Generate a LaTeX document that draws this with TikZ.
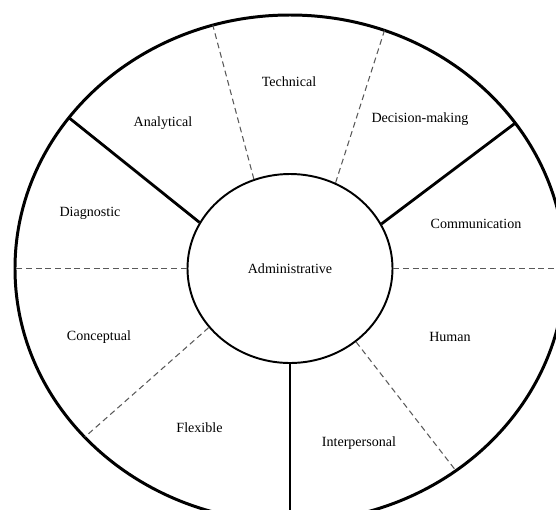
\documentclass[tikz,border=0pt]{standalone}
\usepackage{fontspec}
\setmainfont{Liberation Serif}
\usepackage{tikz}
\usetikzlibrary{shapes.geometric}

\begin{document}
\begin{tikzpicture}[every node/.style={font=\fontsize{8}{10}\selectfont}]
            \tikzstyle{ring}=[line width=1.7pt]
            \tikzstyle{wall}=[line width=1.6pt]
            \tikzstyle{split}=[black!65, line width=0.6pt, dash pattern=on 3.3pt off 2.2pt]
            \tikzstyle{core}=[ellipse, draw, line width=1.1pt, minimum width=4.1cm, minimum height=3.78cm, inner sep=0pt]

            \useasboundingbox (-5.8,-4.81) rectangle (5.32,5.37);
            \clip (-5.8,-4.81) rectangle (5.32,5.37);

            \draw[ring] (0,0) ellipse (5.5cm and 5.07cm);
            \node[core] (admin) at (0,0) {Administrative};

            \coordinate (o1) at (143.5:5.5cm and 5.07cm);
            \coordinate (o2) at (35:5.5cm and 5.07cm);
            \coordinate (o3) at (270:5.5cm and 5.07cm);
            \coordinate (o4) at (106.3:5.5cm and 5.07cm);
            \coordinate (o5) at (69.9:5.5cm and 5.07cm);
            \coordinate (o6) at (180:5.5cm and 5.07cm);
            \coordinate (o7) at (0:5.5cm and 5.07cm);
            \coordinate (o8) at (221.7:5.5cm and 5.07cm);
            \coordinate (o9) at (-52.9:5.5cm and 5.07cm);

            \node (tech) at (-0.02,3.73) {Technical};
            \node (anal) at (-2.54,2.91) {Analytical};
            \node (deci) at (2.60,2.99) {Decision-making};
            \node (diag) at (-4.0,1.11) {Diagnostic};
            \node (comm) at (3.72,0.89) {Communication};
            \node (conc) at (-3.82,-1.37) {Conceptual};
            \node (human) at (3.2,-1.37) {Human};
            \node (flex) at (-1.81,-3.19) {Flexible};
            \node (inter) at (1.38,-3.49) {Interpersonal};

            \draw[wall] (admin.153.2) -- (o1);
            \draw[wall] (admin.26.6) -- (o2);
            \draw[wall] (admin.south) -- (o3);
            \draw[split] (admin.112.2) -- (o4);
            \draw[split] (admin.62.5) -- (o5);
            \draw[split] (admin.west) -- (o6);
            \draw[split] (admin.east) -- (o7);
            \draw[split] (admin.216.6) -- (o8);
            \draw[split] (admin.312) -- (o9);
        \end{tikzpicture}
\end{document}
